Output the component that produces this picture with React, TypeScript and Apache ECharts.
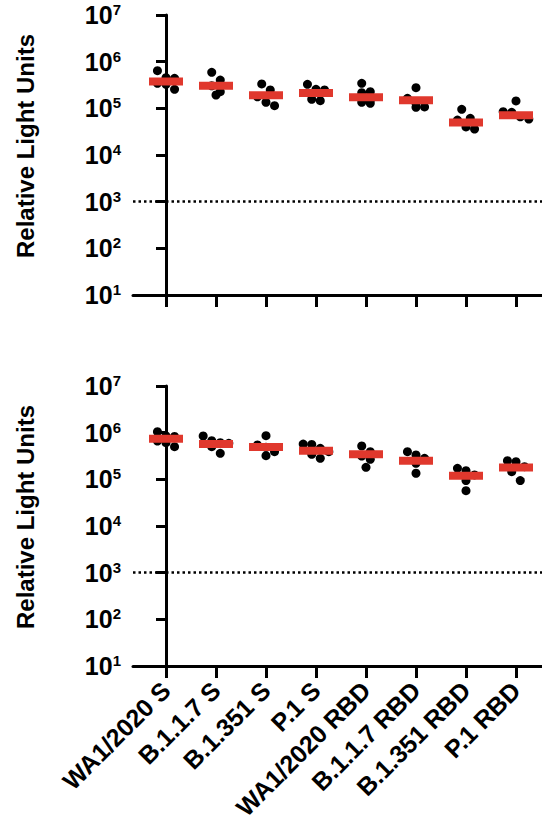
import { useEffect, useRef } from 'react';
import * as echarts from 'echarts';

// Antigen panel categories (shared by both panels)
const CATEGORIES = [
  'WA1/2020 S',
  'B.1.1.7 S',
  'B.1.351 S',
  'P.1 S',
  'WA1/2020 RBD',
  'B.1.1.7 RBD',
  'B.1.351 RBD',
  'P.1 RBD',
];

// Upper panel: individual sample RLU values per antigen
const TOP_POINTS: number[][] = [
  [440000, 454000, 256000, 327000, 641000, 344000],
  [592000, 193000, 305000, 404000, 228000],
  [333000, 114000, 177000, 247000, 135000],
  [247000, 146000, 256000, 156000, 327000],
  [228000, 128000, 216000, 344000, 135000, 151000],
  [277000, 164000, 105000, 107000, 128000],
  [95000, 40000, 61000, 56000, 36000],
  [144000, 66000, 85000, 82000, 59000],
];
// Upper panel: group mean lines
const TOP_MEANS = [375000, 305000, 190000, 213000, 173000, 149000, 50000, 71000];

// Lower panel: individual sample RLU values per antigen
const BOTTOM_POINTS: number[][] = [
  [849000, 830000, 500000, 610000, 1050000, 662000],
  [592000, 673000, 849000, 361000, 500000, 610000],
  [545000, 321000, 861000, 391000, 485000],
  [282000, 462000, 571000, 560000, 344000, 391000],
  [391000, 316000, 181000, 518000, 269000],
  [332000, 391000, 282000, 135000, 221000],
  [172000, 57000, 124000, 153000, 94000],
  [251000, 94000, 239000, 146000, 187000],
];
// Lower panel: group mean lines
const BOTTOM_MEANS = [743000, 571000, 493000, 411000, 344000, 251000, 120000, 180000];

// Assay cutoff drawn as a dotted reference line
const CUTOFF = 1000;

const Y_TITLE = 'Relative Light Units';

// Layout
const WIDTH = 542;
const HEIGHT = 824;
const GRID_LEFT = 133;
const GRID_W = 409;
const GRID_H = 280;
const TOP_Y = 15;
const BOTTOM_Y = 386;
const X_MIN = -0.66;
const X_MAX = 7.52;
const DOT = 9;
const FONT = '"Liberation Sans", Arial, Helvetica, sans-serif';

// Scatter-dot layout: values that sit within one dot height of each other
// share a row and are spread symmetrically around the category centre.
function spreadRows(groups: number[][]): [number, number][] {
  const pxPerCat = GRID_W / (X_MAX - X_MIN);
  const pxPerDecade = GRID_H / 6;
  const spacing = DOT * 0.95;
  const out: [number, number][] = [];
  groups.forEach((vals, gi) => {
    const sorted = [...vals].sort((a, b) => b - a);
    const rows: number[][] = [];
    let rowTop = Infinity;
    sorted.forEach((v) => {
      const py = -Math.log10(v) * pxPerDecade;
      if (rows.length && py - rowTop < DOT) {
        rows[rows.length - 1].push(v);
      } else {
        rows.push([v]);
        rowTop = py;
      }
    });
    rows.forEach((row) => {
      row.forEach((v, j) => {
        const px = (j - (row.length - 1) / 2) * spacing;
        out.push([gi + px / pxPerCat, v]);
      });
    });
  });
  return out;
}

const TICK_VALUES = CATEGORIES.map((_, i) => i);
const lineStyle = { color: '#000', width: 3 };

function xAxis(gridIndex: number, showLabels: boolean) {
  return {
    type: 'value',
    gridIndex,
    min: X_MIN,
    max: X_MAX,
    splitLine: { show: false },
    axisLine: { show: true, lineStyle },
    axisTick: {
      show: true,
      customValues: TICK_VALUES,
      length: 12,
      lineStyle: { color: '#000', width: 3 },
    },
    axisLabel: showLabels
      ? {
          show: true,
          customValues: TICK_VALUES,
          rotate: 45,
          margin: 20,
          color: '#000',
          fontSize: 25,
          fontWeight: 'bold',
          fontFamily: FONT,
          formatter: (v: number) => CATEGORIES[Math.round(v)] ?? '',
        }
      : { show: false },
  };
}

function yAxis(gridIndex: number) {
  return {
    type: 'log',
    logBase: 10,
    gridIndex,
    min: 10,
    max: 1e7,
    splitNumber: 6,
    splitLine: { show: false },
    minorTick: { show: false },
    axisLine: { show: true, lineStyle },
    axisTick: { show: true, length: 10, lineStyle: { color: '#000', width: 3 } },
    axisLabel: {
      margin: 12,
      color: '#000',
      formatter: (v: number) => `{b|10}{e|${Math.round(Math.log10(v))}}`,
      rich: {
        b: { fontSize: 25, fontWeight: 'bold', fontFamily: FONT, color: '#000', lineHeight: 26 },
        e: {
          fontSize: 15,
          fontWeight: 'bold',
          fontFamily: FONT,
          color: '#000',
          lineHeight: 18,
          verticalAlign: 'top',
        },
      },
    },
  };
}

function panelSeries(index: number, points: number[][], means: number[]) {
  return [
    {
      type: 'scatter',
      xAxisIndex: index,
      yAxisIndex: index,
      symbol: 'circle',
      symbolSize: DOT,
      itemStyle: { color: '#000', opacity: 1 },
      data: spreadRows(points),
      z: 2,
      markLine: {
        silent: true,
        symbol: ['none', 'none'],
        label: { show: false },
        lineStyle: { color: '#000', width: 2.5, type: [2.5, 3], opacity: 1 },
        data: [{ yAxis: CUTOFF }],
      },
    },
    {
      type: 'scatter',
      xAxisIndex: index,
      yAxisIndex: index,
      symbol: 'rect',
      symbolSize: [34, 8],
      itemStyle: { color: '#e0382d', opacity: 1 },
      data: means.map((v, i) => [i, v]),
      z: 3,
    },
  ];
}

function titleText(centerY: number) {
  return {
    type: 'text',
    x: 25,
    y: centerY,
    rotation: Math.PI / 2,
    style: {
      text: Y_TITLE,
      fontSize: 24,
      fontWeight: 'bold',
      fontFamily: FONT,
      fill: '#000',
      align: 'center',
      verticalAlign: 'middle',
    },
  };
}

export default function App() {
  const ref = useRef<HTMLDivElement>(null);

  useEffect(() => {
    if (!ref.current) return;
    const chart = echarts.init(ref.current, undefined, { renderer: 'svg' });
    chart.setOption({
      animation: false,
      backgroundColor: '#fff',
      grid: [
        { left: GRID_LEFT, top: TOP_Y, width: GRID_W, height: GRID_H },
        { left: GRID_LEFT, top: BOTTOM_Y, width: GRID_W, height: GRID_H },
      ],
      xAxis: [xAxis(0, false), xAxis(1, true)],
      yAxis: [yAxis(0), yAxis(1)],
      series: [
        ...panelSeries(0, TOP_POINTS, TOP_MEANS),
        ...panelSeries(1, BOTTOM_POINTS, BOTTOM_MEANS),
      ],
      graphic: [
        titleText(TOP_Y + GRID_H / 2 - 9),
        titleText(BOTTOM_Y + GRID_H / 2 - 9),
      ],
    });
    return () => chart.dispose();
  }, []);

  return (
    <div
      ref={ref}
      style={{ position: 'absolute', left: 0, top: 0, width: WIDTH, height: HEIGHT }}
    />
  );
}
